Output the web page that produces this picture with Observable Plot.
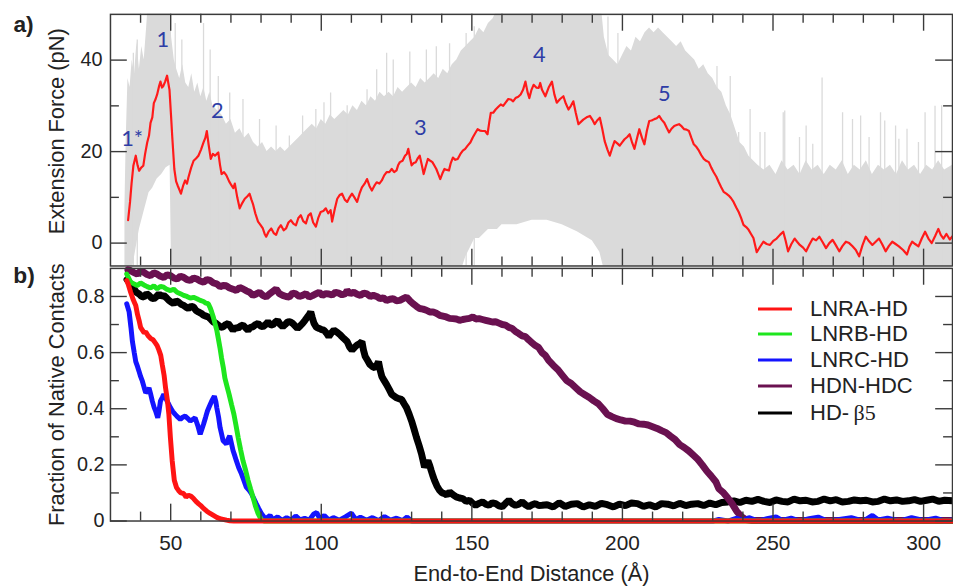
<!DOCTYPE html>
<html>
<head>
<meta charset="utf-8">
<script src="https://cdn.jsdelivr.net/npm/d3@7"></script>
<script src="https://cdn.jsdelivr.net/npm/@observablehq/plot@0.6"></script>
<style>
  html, body { margin: 0; padding: 0; background: #fff; overflow: hidden; }
  #chart { position: relative; width: 953px; height: 587px; overflow: hidden; background: #fff;
           font-family: "Liberation Sans", Arial, Helvetica, sans-serif; }
  #chart svg { position: absolute; left: 0; }
  .legend-row { position: absolute; left: 758px; height: 26px; line-height: 26px; font-size: 22px;
                color: #222; white-space: nowrap; }
  .legend-row svg { position: absolute; left: 0; top: 0; }
  .legend-row span.lbl { position: absolute; left: 52px; top: 0; }
  .sym { font-family: "Liberation Serif", "DejaVu Serif", serif; }
</style>
</head>
<body>
<div id="chart"></div>
<script>
// ---------------- DATA ----------------
// Tick values
const xMajorTicks = [50, 100, 150, 200, 250, 300];
const xMinorTicks = [40, 60, 70, 80, 90, 110, 120, 130, 140, 160, 170, 180, 190, 210, 220, 230, 240, 260, 270, 280, 290];
const forceMajorTicks = [0, 20, 40];
const forceMinorTicks = [10, 30];
const contactMajorTicks = [0, 0.2, 0.4, 0.6, 0.8];
const contactMinorTicks = [0.1, 0.3, 0.5, 0.7];

// Panel a) – raw force trace envelope [distance, low, high] (pN)
const forceBand = [
  [34.8,-6,8],[35.2,-6,22],[35.8,-6,36],[36.5,-6,34],[37.2,-6,40],[38.0,-3,37],[38.8,0,44],[39.6,3,38],
  [40.4,5,43],[41.2,7,40],[42.0,9,47],[42.8,11,55],[44.0,12,55],[45.5,14,55],[47.0,15,55],[48.5,16.5,55],
  [49.8,17,55],[50.3,-6,45],[51.2,-6,40],[52.0,-6,38],[53.0,-6,36],[54.0,-6,39],[55.0,-6,35],[56.0,-6,34],
  [57.0,-6,37],[58.0,-6,33],[59.0,-6,35],[60.0,-6,32],[61.0,-6,34],[62.0,-6,31],[63.0,-6,33],[64.0,-6,30],
  [65.5,-6,29],[67.0,-6,28],[68.5,-6,26],[70.0,-6,27],[71.5,-6,24],[73.0,-6,25],[74.5,-6,23],[76.0,-6,24],
  [77.5,-6,22],[79.0,-6,21],[80.5,-6,22],[82.0,-6,20],[83.5,-6,21],[85.0,-6,20],[86.5,-6,21],[88.0,-6,20],
  [89.5,-6,21],[91.0,-6,22],[92.5,-6,23],[94.0,-6,24],[95.5,-6,25],[97.0,-6,26],[98.5,-6,25],[100.0,-6,27],
  [101.5,-6,26],[103.0,-6,28],[104.5,-6,27],[106.0,-6,28],[107.5,-6,29],[109.0,-6,28],[110.5,-6,30],
  [112.0,-6,29],[113.5,-6,31],[115.0,-6,30],[116.5,-6,32],[118.0,-6,31],[119.5,-6,33],[121.0,-6,32],
  [122.5,-6,33],[124.0,-6,32],[125.5,-6,34],[127.0,-6,33],[128.5,-6,34],[130.0,-6,35],[131.5,-6,34],
  [133.0,-6,36],[134.5,-6,35],[136.0,-6,36],[137.5,-6,37],[139.0,-6,36],[140.5,-6,38],[142.0,-6,37],
  [143.5,-6,39],[145.0,-6,40],[146.5,-6,42],[148.0,-3,43],[149.5,-1,44],[151.0,1,45],[152.5,1,47],
  [154.0,2,46],[155.5,3,48],[157.0,3,49],[158.5,3,51],[160.0,4,55],[165.0,4,55],[170.0,5,55],[175.0,5,55],
  [180.0,4,55],[185.0,2.5,55],[190.0,0.5,55],[192.5,-2,55],[194.0,-6,45],[195.5,-6,41],[197.0,-6,40],
  [198.5,-6,39],[200.0,-6,41],[201.5,-6,43],[203.0,-6,42],[204.5,-6,45],[206.0,-6,44],[207.5,-6,46],
  [209.0,-6,47],[210.5,-6,46],[212.0,-6,47],[213.5,-6,46],[215.0,-6,45],[216.5,-6,44],[218.0,-6,43],
  [219.5,-6,44],[221.0,-6,42],[222.5,-6,41],[224.0,-6,40],[225.5,-6,38],[227.0,-6,39],[228.5,-6,37],
  [230.0,-6,36],[231.5,-6,34],[233.0,-6,33],[234.5,-6,30],[236.0,-6,28],[237.5,-6,25],[239.0,-6,22],
  [240.5,-6,21],[242.0,-6,19],[243.5,-6,18],[245.0,-6,17],[247.0,-6,16],[249.0,-6,17],[251.0,-6,15],
  [253.0,-6,18],[255.0,-6,16],[257.0,-6,17],[259.0,-6,15],[261.0,-6,18],[263.0,-6,16],[265.0,-6,17],
  [267.0,-6,15],[269.0,-6,17],[271.0,-6,16],[273.0,-6,18],[275.0,-6,15],[277.0,-6,17],[279.0,-6,16],
  [281.0,-6,18],[283.0,-6,15],[285.0,-6,17],[287.0,-6,16],[289.0,-6,17],[291.0,-6,15],[293.0,-6,18],
  [295.0,-6,16],[297.0,-6,17],[299.0,-6,15],[301.0,-6,17],[303.0,-6,16],[305.0,-6,18],[307.0,-6,16],[309.6,-6,17]
];

// Panel a) – isolated spikes of the raw trace [distance, top force]
const forceSpikes = [
  [37.6,41.5],[38.9,44.4],[51.5,48],[53.7,44.4],[60.9,48],[63.1,42.2],[65.8,36.4],[69.6,32.8],[74.0,31.4],
  [79.5,27.0],[85.0,25.6],[89.4,23.4],[93.8,27.8],[98.2,29.2],[100.9,30.7],[103.1,32.8],[108.6,30],
  [115.2,33.5],[118.4,37.9],[121.7,41.5],[123.9,40],[129.4,41.8],[134.9,42.2],[138.2,42.9],[142.6,43.6],
  [148.1,45.8],[150.8,47.3],[195.2,49.4],[198.5,45.8],[231.4,38.6],[235.8,36.4],[238.6,24.2],[242.4,29.2],
  [245.7,24.2],[247.3,24.2],[253.4,28.5],[253.9,28.9],[258.8,23.1],[261.0,25.6],[263.2,21.6],[266.3,36.1],
  [273.1,28.5],[276.4,27.0],[279.1,27.8],[281.9,23.1],[285.7,28.5],[287.1,26.7],[290.7,25.6],[291.8,22.7],
  [294.5,24.9],[298.3,22.0],[300.5,28.5],[303.8,29.9],[306.0,30.0]
];

// Panel a) – smoothed extension force (red) [distance, force]
const smoothedForce = [
  [35.86,5.0],[36.5,9],[37.0,13],[37.6,16.9],[38.4,19.1],[39.0,17],[39.5,15.8],[40.2,16.5],[40.9,16.9],
  [41.5,19.5],[42.2,22.0],[42.8,23.5],[43.3,26.3],[43.9,27.5],[44.4,30.6],[45.0,31.5],[45.5,32.5],[46.1,34.2],
  [46.6,35.3],[47.1,34],[47.5,34.3],[48.1,35.2],[48.8,36.6],[49.2,35],[49.6,33.5],[50.1,28],[50.5,23.4],
  [51.2,16.2],[51.8,13.5],[52.3,12.6],[53.0,11.5],[53.4,10.8],[54.1,12.5],[54.8,13.7],[55.4,13.0],[55.9,14.4],
  [56.8,16.5],[57.6,18.0],[58.4,18.5],[59.2,19.1],[60.1,20.5],[60.9,22.0],[61.5,23.0],[62.0,24.5],[62.6,21.5],
  [63.3,18.4],[64.0,19.5],[64.7,19.1],[65.3,19.5],[65.8,19.8],[66.4,17.0],[66.9,15.1],[67.7,15.5],[68.5,14.8],
  [69.4,13.5],[70.2,12.6],[70.8,12.0],[71.3,13.0],[72.1,10.0],[72.9,7.6],[73.8,8.8],[74.6,9.7],[75.4,10.2],
  [76.2,10.8],[76.8,9.5],[77.3,8.6],[78.1,6.5],[79.0,4.7],[79.8,4.0],[80.6,3.2],[81.2,2.0],[81.7,1.4],
  [82.5,2.5],[83.4,3.2],[84.2,2.2],[85.0,1.8],[85.8,3.2],[86.6,3.9],[87.5,2.8],[88.3,3.2],[89.1,4.5],
  [89.9,5.0],[90.8,4.2],[91.6,3.9],[92.4,5.5],[93.2,6.1],[94.0,4.8],[94.9,4.3],[95.7,6.0],[96.5,6.5],
  [97.3,4.5],[98.2,3.6],[99.0,5.5],[99.8,6.8],[100.7,7.0],[101.5,7.6],[102.3,6.5],[103.1,7.2],[103.6,4.7],
  [104.5,7.5],[105.3,9.7],[106.1,10.5],[106.9,10.8],[107.8,9.5],[108.6,9.0],[109.4,10.0],[110.2,10.8],
  [111.0,10.0],[111.9,9.0],[112.7,10.8],[113.5,12.2],[114.4,13.0],[115.2,14.0],[116.0,12.5],[116.8,11.5],
  [117.6,12.5],[118.4,13.3],[119.3,13.0],[120.1,13.7],[120.9,14.8],[121.7,15.5],[122.6,15.5],[123.4,16.2],
  [124.2,15.5],[125.0,15.9],[125.5,17.0],[126.1,17.7],[127.0,18.0],[127.8,19.1],[128.4,19.5],[128.9,20.6],
  [129.5,18.5],[130.0,17.0],[130.7,17.5],[131.4,17.7],[132.0,18.5],[132.7,19.1],[133.4,17.0],[134.0,15.1],
  [134.7,16.8],[135.4,18.4],[136.2,18.0],[136.9,17.7],[137.5,17.0],[138.2,16.2],[138.9,15.0],[139.5,14.0],
  [140.2,15.2],[140.9,16.2],[141.7,16.0],[142.4,15.9],[143.0,17.5],[143.7,18.7],[144.5,18.2],[145.3,18.4],
  [146.2,19.5],[147.0,20.2],[147.8,20.6],[148.6,21.3],[149.5,22.0],[150.3,23.1],[151.1,24.0],[151.9,24.9],
  [152.7,24.6],[153.5,24.5],[154.4,24.5],[155.2,23.8],[155.8,26.5],[156.3,28.5],[157.1,28.5],[157.9,29.2],
  [158.8,29.8],[159.6,30.3],[160.4,30.0],[161.2,30.7],[162.1,31.5],[162.9,31.4],[163.7,31.0],[164.5,31.7],
  [165.4,32.0],[166.2,32.5],[167.0,33.5],[167.8,35.3],[168.5,33.0],[169.1,31.7],[169.8,33.5],[170.5,34.6],
  [171.4,34.0],[172.2,33.9],[172.7,35.0],[173.3,33.5],[174.4,32.1],[175.5,34.0],[176.6,35.3],[177.4,32.5],
  [178.2,30.7],[179.3,31.5],[180.4,32.1],[181.2,30.5],[182.1,29.2],[182.9,30.0],[183.7,31.0],[184.5,28.5],
  [185.4,26.0],[186.2,26.5],[187.0,27.0],[188.1,27.5],[189.2,27.8],[190.0,27.0],[190.8,26.0],[191.6,26.8],
  [192.5,27.4],[193.3,25.0],[194.1,22.3],[195.0,20.5],[195.8,19.1],[196.6,20.8],[197.4,22.3],[198.3,21.8],
  [199.1,21.3],[199.9,22.0],[200.7,22.7],[201.6,23.2],[202.4,23.8],[203.2,22.0],[204.0,20.6],[204.8,22.8],
  [205.6,24.9],[206.5,23.0],[207.3,21.6],[208.1,24.5],[208.9,26.7],[209.7,26.8],[210.6,27.1],[211.4,27.3],
  [212.2,27.8],[213.0,27.0],[213.9,26.3],[214.7,25.2],[215.5,24.2],[216.3,25.0],[217.2,25.6],[218.0,25.8],
  [218.8,26.0],[219.7,25.5],[220.5,24.9],[221.3,24.8],[222.1,24.5],[222.9,23.0],[223.7,21.6],[224.6,21.0],
  [225.4,20.2],[226.2,19.2],[227.0,18.4],[227.8,18.0],[228.7,17.7],[229.5,16.5],[230.3,15.5],[231.2,14.5],
  [232.0,13.3],[232.8,12.2],[233.6,11.2],[234.5,10.8],[235.3,10.4],[236.1,9.8],[236.9,9.0],[237.8,7.8],
  [238.6,6.8],[239.4,5.5],[240.2,4.0],[241.1,3.5],[241.9,2.9],[242.7,2.0],[243.5,1.1],[244.6,-2.0],
  [245.7,-0.8],[246.8,0.3],[247.9,-0.2],[249.0,-0.4],[250.1,0.5],[251.2,1.0],[252.3,1.8],[253.4,2.5],
  [254.2,0.5],[255.0,-1.8],[256.1,-0.2],[257.2,1.0],[258.0,0.3],[258.9,-0.4],[260.0,-1.0],[261.0,-1.8],
  [262.1,-0.3],[263.2,1.0],[264.3,0.6],[265.4,1.4],[266.5,0.2],[267.6,-1.1],[268.7,0.0],[269.8,0.7],
  [270.9,-0.5],[272.0,-1.8],[273.1,-0.6],[274.2,0.3],[275.3,0.0],[276.4,-0.7],[277.5,-1.5],[278.6,-2.9],
  [279.7,-0.5],[280.8,1.4],[281.9,0.4],[283.0,-0.4],[284.1,0.3],[285.2,1.0],[286.3,-0.3],[287.4,-1.8],
  [288.5,-0.6],[289.6,0.3],[290.7,-0.2],[291.8,-0.7],[293.2,-1.5],[294.5,-2.5],[295.3,-0.8],[296.2,0.3],
  [297.2,-0.2],[298.3,-0.7],[299.4,1.0],[300.5,2.5],[301.6,1.0],[302.7,0.0],[303.8,1.5],[304.9,3.1],
  [305.7,1.8],[306.6,1.0],[307.6,2.0],[308.7,0.8],[309.6,1.5]
];

// Panel a) – peak labels
const peakLabels = ["1*", "1", "2", "3", "4", "5"];
const peakX = [37.2, 47.4, 65.5, 132.9, 172.4, 213.9];
const peakY = [22.7, 44.4, 28.8, 25.1, 41.1, 32.5];

// Panel b) – fraction of native contacts [distance, fraction]
const seriesNames = ["LNRA-HD", "LNRB-HD", "LNRC-HD", "HDN-HDC", "HD-β5"];
const seriesColors = ["#ff1414", "#1ee61e", "#1414ff", "#6a1150", "#000000"];

const lnraHD = [
  [35.4,0.857],[36.0,0.84],[36.7,0.815],[37.5,0.79],[38.4,0.768],[39.0,0.735],[39.5,0.715],[40.0,0.69],
  [40.6,0.68],[41.2,0.67],[41.7,0.674],[42.5,0.66],[43.3,0.651],[44.2,0.645],[45.0,0.633],[45.5,0.625],
  [46.1,0.609],[46.7,0.59],[47.2,0.557],[47.8,0.52],[48.3,0.474],[48.9,0.43],[49.4,0.38],[49.9,0.298],
  [50.5,0.215],[51.2,0.145],[51.9,0.12],[52.6,0.109],[53.4,0.10],[54.3,0.098],[55.1,0.085],[55.9,0.092],
  [56.8,0.088],[57.6,0.080],[58.4,0.07],[59.2,0.062],[60.0,0.055],[60.9,0.045],[62.0,0.035],[63.1,0.027],
  [64.2,0.02],[65.3,0.013],[66.4,0.008],[67.4,0.006],[68.5,0.003],[69.6,0.001],[71.0,0],[309.6,0]
];
const lnrbHD = [
  [35.4,0.88],[36.7,0.851],[37.8,0.845],[38.9,0.839],[40.0,0.848],[41.1,0.841],[42.2,0.835],[43.3,0.830],
  [44.4,0.838],[45.5,0.827],[46.6,0.836],[47.7,0.833],[48.8,0.825],[49.9,0.821],[51.0,0.826],[52.1,0.815],
  [53.2,0.81],[54.3,0.804],[55.4,0.80],[56.5,0.794],[57.6,0.797],[58.7,0.792],[59.8,0.786],[60.9,0.782],
  [61.7,0.776],[62.5,0.774],[63.1,0.76],[63.6,0.745],[64.2,0.725],[64.7,0.704],[65.3,0.68],[65.8,0.651],
  [66.4,0.615],[66.9,0.58],[67.5,0.545],[68.0,0.509],[68.7,0.48],[69.4,0.451],[70.2,0.415],[71.0,0.38],
  [71.7,0.34],[72.4,0.298],[73.2,0.255],[74.0,0.215],[74.9,0.18],[75.7,0.145],[76.5,0.115],[77.3,0.086],
  [78.1,0.055],[79.0,0.027],[80.1,0.004],[81.0,0],[309.6,0]
];
const lnrcHD = [
  [35.4,0.774],[36.2,0.745],[36.8,0.69],[37.3,0.639],[37.9,0.60],[38.4,0.568],[39.0,0.55],[39.5,0.533],
  [40.0,0.515],[40.6,0.498],[41.2,0.475],[41.7,0.457],[42.2,0.462],[42.8,0.474],[43.4,0.45],[43.9,0.427],
  [44.5,0.405],[45.0,0.392],[45.7,0.368],[46.1,0.39],[46.6,0.427],[47.2,0.44],[47.7,0.451],[48.3,0.44],
  [48.8,0.427],[49.4,0.415],[49.9,0.404],[50.7,0.39],[51.5,0.380],[52.4,0.37],[53.2,0.362],[54.0,0.37],
  [54.8,0.374],[55.7,0.365],[56.5,0.356],[57.3,0.362],[58.1,0.368],[59.0,0.34],[59.8,0.309],[60.3,0.325],
  [60.9,0.345],[61.6,0.37],[62.2,0.392],[62.9,0.41],[63.6,0.427],[64.0,0.435],[64.5,0.445],[65.0,0.425],
  [65.3,0.404],[65.9,0.37],[66.4,0.333],[66.9,0.31],[67.4,0.286],[68.0,0.28],[68.5,0.274],[69.0,0.29],
  [69.6,0.304],[70.2,0.275],[70.7,0.251],[71.3,0.232],[71.8,0.215],[72.6,0.19],[73.5,0.168],[74.3,0.145],
  [75.1,0.121],[76.0,0.11],[76.8,0.098],[77.6,0.08],[78.4,0.062],[79.2,0.045],[80.1,0.027],[80.9,0.015],
  [81.7,0.009],[83.0,0.02],[84.0,0.004],[85.5,0.015],[87.0,0.002],[88.5,0.012],[90.0,0.003],[91.5,0.018],
  [93.0,0.004],[94.5,0.01],[96.0,0.003],[97.5,0.025],[98.5,0.03],[99.5,0.008],[101.0,0.02],[102.5,0.004],
  [104.0,0.012],[106.0,0.003],[108.0,0.015],[110.0,0.028],[111.5,0.005],[113.0,0.014],[115.0,0.003],
  [117.0,0.012],[119.0,0.002],[121.0,0.016],[123.0,0.003],[125.0,0.01],[127.0,0.002],[128.5,0.014],
  [130.0,0],[230.0,0],[232.0,0.006],[235.0,0],[238.0,0.01],[240.0,0.002],[242.0,0.012],[245.0,0],
  [248.0,0.008],[251.0,0.015],[253.0,0.002],[256.0,0.01],[259.0,0],[262.0,0.008],[265.0,0.014],[268.0,0],
  [272.0,0.006],[276.0,0.012],[280.0,0],[283.0,0.02],[285.0,0.004],[288.0,0.01],[292.0,0],[296.0,0.012],
  [300.0,0.002],[304.0,0.01],[307.0,0],[309.6,0.004]
];
const hdnHDC = [
  [35.8,0.895],[36.7,0.892],[37.8,0.885],[38.9,0.880],[40.0,0.89],[41.1,0.886],[42.2,0.878],[43.3,0.874],
  [44.4,0.884],[45.5,0.880],[46.6,0.872],[47.7,0.868],[48.8,0.877],[49.9,0.874],[51.0,0.866],[52.1,0.862],
  [53.2,0.872],[54.3,0.868],[55.4,0.86],[56.5,0.857],[57.6,0.866],[58.7,0.862],[59.8,0.855],[60.9,0.851],
  [62.0,0.86],[63.1,0.857],[64.2,0.848],[65.3,0.845],[66.4,0.835],[67.4,0.839],[68.5,0.838],[69.6,0.830],
  [70.7,0.826],[71.8,0.821],[72.9,0.832],[74.0,0.827],[75.1,0.82],[76.2,0.815],[77.3,0.804],[78.4,0.809],
  [79.5,0.815],[80.6,0.804],[81.7,0.798],[82.8,0.809],[83.9,0.818],[85.0,0.827],[86.1,0.81],[87.2,0.804],
  [88.3,0.80],[89.4,0.798],[90.5,0.812],[91.6,0.809],[92.7,0.80],[93.8,0.804],[94.9,0.81],[96.0,0.798],
  [97.1,0.803],[98.2,0.809],[99.3,0.815],[100.4,0.804],[101.5,0.81],[102.5,0.809],[103.6,0.805],[104.7,0.815],
  [105.8,0.812],[106.9,0.806],[108.0,0.81],[108.6,0.821],[109.7,0.81],[110.8,0.815],[111.9,0.808],[113.0,0.804],
  [114.1,0.812],[115.2,0.809],[116.3,0.80],[117.3,0.804],[118.4,0.80],[119.5,0.792],[120.6,0.795],[121.7,0.786],
  [122.8,0.79],[123.9,0.792],[125.0,0.785],[126.1,0.786],[127.2,0.792],[128.3,0.798],[129.4,0.785],[130.5,0.774],
  [131.6,0.765],[132.7,0.757],[133.8,0.755],[134.9,0.751],[136.0,0.745],[137.1,0.745],[138.2,0.74],[139.3,0.733],
  [140.4,0.73],[141.5,0.727],[142.6,0.722],[143.7,0.721],[144.8,0.72],[145.9,0.715],[147.0,0.718],[148.1,0.72],
  [149.2,0.722],[150.3,0.727],[151.3,0.72],[152.4,0.721],[153.5,0.718],[154.6,0.715],[155.7,0.712],[156.8,0.709],
  [157.9,0.71],[159.0,0.705],[160.1,0.70],[161.2,0.698],[162.3,0.69],[163.4,0.686],[164.5,0.675],[165.6,0.668],
  [166.7,0.66],[167.8,0.657],[168.9,0.645],[170.0,0.635],[171.1,0.625],[172.2,0.618],[173.3,0.60],[174.4,0.59],
  [175.5,0.572],[177.0,0.555],[178.5,0.54],[180.0,0.52],[181.5,0.50],[183.0,0.49],[184.5,0.475],[186.0,0.46],
  [187.5,0.45],[189.0,0.44],[190.5,0.428],[192.0,0.418],[193.5,0.40],[195.0,0.38],[196.5,0.372],[198.0,0.365],
  [199.5,0.36],[201.0,0.356],[202.5,0.356],[204.0,0.352],[205.5,0.346],[207.0,0.345],[208.5,0.342],[210.0,0.336],
  [211.5,0.33],[213.0,0.322],[214.5,0.315],[216.0,0.302],[217.5,0.29],[219.0,0.272],[220.5,0.262],[222.0,0.25],
  [223.5,0.235],[225.0,0.22],[226.5,0.20],[228.0,0.178],[229.5,0.16],[231.0,0.14],[232.0,0.115],[233.6,0.10],
  [235.0,0.082],[236.4,0.062],[238.0,0.034],[239.6,0.015],[241.0,0.005],[243.0,0.002],[309.6,0.002]
];
const hdBeta5 = [
  [35.5,0.86],[36.2,0.851],[37.0,0.84],[37.8,0.827],[38.6,0.815],[39.5,0.809],[40.3,0.80],[41.1,0.798],
  [42.0,0.81],[42.8,0.804],[43.6,0.795],[44.4,0.792],[45.3,0.80],[46.1,0.809],[46.9,0.80],[47.7,0.804],
  [48.6,0.795],[49.4,0.786],[50.2,0.78],[51.0,0.774],[51.8,0.785],[52.6,0.780],[53.5,0.772],[54.3,0.768],
  [55.1,0.762],[55.9,0.757],[56.8,0.765],[57.6,0.762],[58.4,0.75],[59.2,0.745],[60.1,0.74],[60.9,0.733],
  [61.7,0.73],[62.5,0.727],[63.4,0.718],[64.2,0.709],[65.0,0.705],[65.8,0.698],[66.6,0.69],[67.4,0.692],
  [68.3,0.70],[69.1,0.704],[69.9,0.692],[70.7,0.680],[71.6,0.69],[72.4,0.686],[73.2,0.695],[74.0,0.698],
  [74.9,0.688],[75.7,0.680],[76.5,0.69],[77.3,0.692],[78.2,0.70],[79.0,0.704],[79.8,0.695],[80.6,0.692],
  [81.5,0.70],[82.3,0.709],[83.1,0.70],[83.9,0.698],[84.7,0.708],[85.5,0.715],[86.4,0.70],[87.2,0.692],
  [88.0,0.70],[88.8,0.709],[89.7,0.71],[90.5,0.704],[91.3,0.695],[92.1,0.686],[93.0,0.695],[93.8,0.704],
  [94.6,0.715],[95.4,0.727],[96.0,0.735],[96.5,0.745],[97.0,0.725],[97.6,0.704],[98.4,0.69],[99.3,0.686],
  [100.1,0.682],[100.9,0.680],[101.7,0.67],[102.5,0.657],[103.2,0.668],[104.2,0.680],[105.3,0.672],[106.4,0.662],
  [107.5,0.65],[108.6,0.639],[109.4,0.62],[110.2,0.609],[111.0,0.618],[111.9,0.627],[112.7,0.632],[113.5,0.639],
  [114.0,0.61],[114.6,0.586],[115.4,0.572],[116.2,0.557],[117.0,0.55],[117.9,0.545],[118.5,0.556],[119.0,0.568],
  [119.5,0.54],[120.1,0.515],[120.9,0.50],[121.7,0.486],[122.6,0.468],[123.4,0.451],[124.2,0.445],[125.0,0.439],
  [125.9,0.435],[126.7,0.433],[127.5,0.418],[128.3,0.404],[129.2,0.38],[130.0,0.356],[130.8,0.328],[131.6,0.298],
  [132.5,0.268],[133.3,0.239],[134.3,0.192],[134.9,0.205],[135.4,0.215],[136.0,0.198],[136.5,0.180],[137.0,0.163],
  [137.6,0.145],[138.4,0.125],[139.3,0.109],[140.1,0.10],[140.9,0.098],[141.7,0.092],[142.6,0.104],[143.7,0.094],
  [144.8,0.086],[145.9,0.082],[147.0,0.080],[148.1,0.07],[149.2,0.074],[150.2,0.064],[151.3,0.056],[152.4,0.063],
  [153.5,0.068],[154.6,0.06],[155.7,0.056],[156.8,0.065],[157.9,0.062],[159.0,0.054],[160.1,0.051],[161.2,0.063],
  [162.3,0.074],[163.4,0.062],[164.5,0.056],[165.6,0.06],[166.7,0.068],[167.8,0.058],[168.9,0.051],[170.0,0.058],
  [171.1,0.062],[172.2,0.055],[173.3,0.056],[175,0.058],[177,0.05],[179,0.065],[181,0.052],[183,0.06],[185,0.062],
  [187,0.05],[189,0.058],[191,0.052],[193,0.063],[195,0.058],[197,0.05],[199,0.06],[201,0.055],[203,0.064],
  [205,0.062],[207,0.052],[209,0.058],[211,0.05],[213,0.062],[215,0.06],[217,0.054],[219,0.063],[221,0.055],
  [223,0.06],[225,0.062],[227,0.055],[229,0.064],[231,0.058],[233,0.066],[235,0.068],[237,0.072],[239,0.066],
  [241,0.074],[243,0.07],[245,0.077],[247,0.07],[249,0.066],[251,0.075],[253,0.07],[255,0.068],[257,0.078],
  [259,0.072],[261,0.074],[263,0.068],[265,0.07],[267,0.078],[269,0.072],[271,0.076],[273,0.068],[275,0.07],
  [277,0.075],[279,0.072],[281,0.074],[283,0.068],[285,0.07],[287,0.078],[289,0.072],[291,0.075],[293,0.07],
  [295,0.072],[297,0.076],[299,0.07],[301,0.074],[303,0.078],[305,0.07],[307,0.074],[309.6,0.072]
];
const seriesData = [lnraHD, lnrbHD, lnrcHD, hdnHDC, hdBeta5];

// ---------------- LAYOUT ----------------
const W = 962;                 // svg wider than the window: right frame is cropped like the reference
const xDomain = [30, 309.6];
const ML = 111, MR = 1;
const FONT = '"Liberation Sans", Arial, Helvetica, sans-serif';
const INK = "#222";
const FRAME = "#3a3a3a";

function frameTicks(xDom, yDom, plotW, plotH) {
  const kx = (xDom[1] - xDom[0]) / plotW;
  const ky = (yDom[1] - yDom[0]) / plotH;
  return (xMaj, xMin, yMaj, yMin) => {
    const L = 17, S = 9;
    const xt = [...xMaj.map(v => ({v, l: L})), ...xMin.map(v => ({v, l: S}))];
    const yt = [...yMaj.map(v => ({v, l: L})), ...yMin.map(v => ({v, l: S}))];
    const st = {stroke: FRAME, strokeWidth: 1.4};
    return [
      Plot.ruleX(xt, {x: "v", y1: yDom[0], y2: d => yDom[0] + d.l * ky, ...st}),
      Plot.ruleX(xt, {x: "v", y1: yDom[1], y2: d => yDom[1] - d.l * ky, ...st}),
      Plot.ruleY(yt, {y: "v", x1: xDom[0], x2: d => xDom[0] + d.l * kx, ...st}),
      Plot.ruleY(yt, {y: "v", x1: xDom[1], x2: d => xDom[1] - d.l * kx, ...st})
    ];
  };
}

const chart = document.getElementById("chart");

// ---------- Panel a ----------
const aTop = 14, aH = 278, aBottom = 10;
const yDomA = [-5, 50];
const ticksA = frameTicks(xDomain, yDomA, W - ML - MR, aH - aTop - aBottom)(xMajorTicks, xMinorTicks, forceMajorTicks, forceMinorTicks);

const plotA = Plot.plot({
  width: W, height: aH,
  marginLeft: ML, marginRight: MR, marginTop: aTop, marginBottom: aBottom,
  x: {domain: xDomain, axis: null},
  y: {domain: yDomA, axis: null},
  style: {background: "transparent", fontFamily: FONT, color: INK, overflow: "visible"},
  marks: [
    Plot.areaY(forceBand, {x: d => d[0], y1: d => d[1], y2: d => d[2], fill: "#dadada", clip: true}),
    Plot.ruleX(forceSpikes, {x: d => d[0], y1: -5, y2: d => d[1], stroke: "#dadada", strokeWidth: 1.3, clip: true}),
    Plot.line(smoothedForce, {x: d => d[0], y: d => d[1], stroke: "#ff1a1a", strokeWidth: 2.2, clip: true}),
    Plot.text(peakLabels, {x: (d, i) => peakX[i], y: (d, i) => peakY[i], text: d => d,
      fill: "#2e3da6", fontSize: 22, fontFamily: "Lato, 'Open Sans', sans-serif"}),
    ...ticksA,
    Plot.axisY({ticks: forceMajorTicks, tickSize: 0, tickPadding: 8, fontSize: 20, label: null, fill: INK}),
    Plot.text(["Extension Force (pN)"], {frameAnchor: "left", textAnchor: "middle", lineAnchor: "middle",
      rotate: -90, dx: -54, dy: -9, fontSize: 22, fill: INK}),
    Plot.text(["a)"], {frameAnchor: "top-left", dx: -98, dy: 1, textAnchor: "start", lineAnchor: "top",
      fontSize: 23, fontWeight: "bold", fill: INK}),
    Plot.frame({stroke: FRAME, strokeWidth: 1.5})
  ]
});
plotA.style.top = "0px";
chart.appendChild(plotA);

// ---------- Panel b ----------
const bTopPx = 258, bTop = 10, bH = 329, bBottom = 64;
const yDomB = [0, 0.9];
const ticksB = frameTicks(xDomain, yDomB, W - ML - MR, bH - bTop - bBottom)(xMajorTicks, xMinorTicks, contactMajorTicks, contactMinorTicks);
const drawOrder = [4, 3, 2, 1, 0];
const widths = [5, 5, 5, 7, 7];

const plotB = Plot.plot({
  width: W, height: bH,
  marginLeft: ML, marginRight: MR, marginTop: bTop, marginBottom: bBottom,
  x: {domain: xDomain, axis: null},
  y: {domain: yDomB, axis: null},
  style: {background: "transparent", fontFamily: FONT, color: INK, overflow: "visible"},
  marks: [
    ...drawOrder.map(i => Plot.line(seriesData[i], {x: d => d[0], y: d => d[1],
      stroke: seriesColors[i], strokeWidth: widths[i], strokeLinejoin: "miter"})),
    ...ticksB,
    Plot.axisY({ticks: contactMajorTicks, tickFormat: d => String(d), tickSize: 0, tickPadding: 6, fontSize: 20, label: null, fill: INK}),
    Plot.axisX({anchor: "bottom", ticks: xMajorTicks, tickSize: 0, tickPadding: 14, fontSize: 21, label: null, fill: INK}),
    Plot.text(["Fraction of Native Contacts"], {frameAnchor: "left", textAnchor: "middle", lineAnchor: "middle",
      rotate: -90, dx: -54, fontSize: 22, fill: INK}),
    Plot.text(["End-to-End Distance (Å)"], {frameAnchor: "bottom", textAnchor: "middle", lineAnchor: "middle",
      dy: 54, fontSize: 22, fill: INK}),
    Plot.text(["b)"], {frameAnchor: "top-left", dx: -98, dy: -2, textAnchor: "start", lineAnchor: "top",
      fontSize: 23, fontWeight: "bold", fill: INK}),
    Plot.frame({stroke: FRAME, strokeWidth: 1.5})
  ]
});
plotB.style.top = bTopPx + "px";
chart.appendChild(plotB);

// ---------- Legend ----------
const legendCenters = [308.7, 334, 360, 386, 413];
seriesNames.forEach((name, i) => {
  const row = document.createElement("div");
  row.className = "legend-row";
  row.style.top = (legendCenters[i] - 13) + "px";
  const svgNS = "http://www.w3.org/2000/svg";
  const s = document.createElementNS(svgNS, "svg");
  s.setAttribute("width", 36); s.setAttribute("height", 26);
  const ln = document.createElementNS(svgNS, "line");
  ln.setAttribute("x1", 0); ln.setAttribute("x2", 34); ln.setAttribute("y1", 13); ln.setAttribute("y2", 13);
  ln.setAttribute("stroke", seriesColors[i]); ln.setAttribute("stroke-width", 3);
  s.appendChild(ln);
  row.appendChild(s);
  const lbl = document.createElement("span");
  lbl.className = "lbl";
  if (name.includes("β")) {
    const parts = name.split("β");
    lbl.append(parts[0] + "\u2009");
    const sym = document.createElement("span");
    sym.className = "sym";
    sym.textContent = "β" + parts[1];
    lbl.appendChild(sym);
  } else {
    lbl.textContent = name;
  }
  row.appendChild(lbl);
  chart.appendChild(row);
});
</script>
</body>
</html>
